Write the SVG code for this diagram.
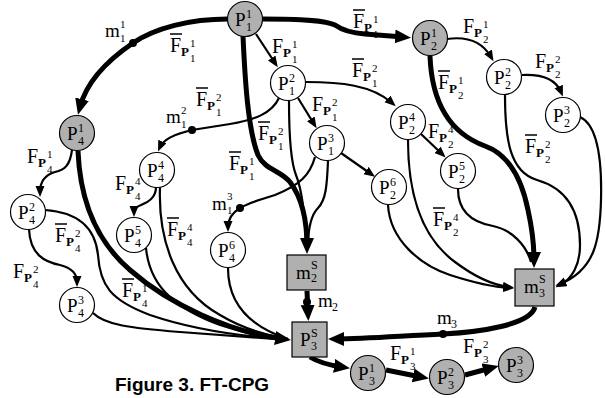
<svg xmlns="http://www.w3.org/2000/svg" width="605" height="398" viewBox="0 0 605 398">
<defs>
<style>
.c{fill:#fff;stroke:#000;stroke-width:1.2}
.g{fill:#b0b0b0;stroke:#000;stroke-width:1.2}
.thk{fill:none;stroke:#000;stroke-width:5}
.thn{fill:none;stroke:#000;stroke-width:2.2}
.ah{marker-end:url(#ah)}
.at{marker-end:url(#at)}
.dot{fill:#000}
text{font-family:"Liberation Serif","Times New Roman",serif;fill:#000}
.F{font-size:20px}
.pb{font-size:13px;font-weight:bold}
.sc{font-size:11px}
.nP{font-size:19px}
.ns{font-size:12px}
.ms{font-size:11px}
.ov{stroke:#000;stroke-width:1.5}
.cap{font-family:"Liberation Sans",Arial,sans-serif;font-weight:bold;font-size:19px}
</style>
<marker id="ah" markerUnits="userSpaceOnUse" markerWidth="17" markerHeight="15" refX="8" refY="7" orient="auto"><path d="M0,0 L16,7 L0,14 z" fill="#000"/></marker>
<marker id="at" markerUnits="userSpaceOnUse" markerWidth="12" markerHeight="10" refX="6" refY="4.5" orient="auto"><path d="M0,0 L11,4.5 L0,9 z" fill="#000"/></marker>
</defs>
<rect width="605" height="398" fill="#fff"/>

<g id="labels">
<g transform="translate(170,52)"><line class="ov" x1="0" y1="-18" x2="12" y2="-18"/><text><tspan class="F" x="0" y="0">F</tspan><tspan class="pb" x="11" y="4">P</tspan><tspan class="sc" x="20" y="-5">1</tspan><tspan class="sc" x="20" y="10">1</tspan></text></g>
<g transform="translate(353,28)"><line class="ov" x1="0" y1="-18" x2="12" y2="-18"/><text><tspan class="F" x="0" y="0">F</tspan><tspan class="pb" x="11" y="4">P</tspan><tspan class="sc" x="20" y="-5">1</tspan><tspan class="sc" x="20" y="10">1</tspan></text></g>
<g transform="translate(272,53)"><text><tspan class="F" x="0" y="0">F</tspan><tspan class="pb" x="11" y="4">P</tspan><tspan class="sc" x="20" y="-5">1</tspan><tspan class="sc" x="20" y="10">1</tspan></text></g>
<g transform="translate(352,77)"><line class="ov" x1="0" y1="-18" x2="12" y2="-18"/><text><tspan class="F" x="0" y="0">F</tspan><tspan class="pb" x="11" y="4">P</tspan><tspan class="sc" x="20" y="-5">2</tspan><tspan class="sc" x="20" y="10">1</tspan></text></g>
<g transform="translate(312,111)"><text><tspan class="F" x="0" y="0">F</tspan><tspan class="pb" x="11" y="4">P</tspan><tspan class="sc" x="20" y="-5">2</tspan><tspan class="sc" x="20" y="10">1</tspan></text></g>
<g transform="translate(196,106)"><line class="ov" x1="0" y1="-18" x2="12" y2="-18"/><text><tspan class="F" x="0" y="0">F</tspan><tspan class="pb" x="11" y="4">P</tspan><tspan class="sc" x="20" y="-5">2</tspan><tspan class="sc" x="20" y="10">1</tspan></text></g>
<g transform="translate(258,140)"><line class="ov" x1="0" y1="-18" x2="12" y2="-18"/><text><tspan class="F" x="0" y="0">F</tspan><tspan class="pb" x="11" y="4">P</tspan><tspan class="sc" x="20" y="-5">2</tspan><tspan class="sc" x="20" y="10">1</tspan></text></g>
<g transform="translate(229,170)"><line class="ov" x1="0" y1="-18" x2="12" y2="-18"/><text><tspan class="F" x="0" y="0">F</tspan><tspan class="pb" x="11" y="4">P</tspan><tspan class="sc" x="20" y="-5">1</tspan><tspan class="sc" x="20" y="10">1</tspan></text></g>
<g transform="translate(463,33)"><text><tspan class="F" x="0" y="0">F</tspan><tspan class="pb" x="11" y="4">P</tspan><tspan class="sc" x="20" y="-5">1</tspan><tspan class="sc" x="20" y="10">2</tspan></text></g>
<g transform="translate(535,68)"><text><tspan class="F" x="0" y="0">F</tspan><tspan class="pb" x="11" y="4">P</tspan><tspan class="sc" x="20" y="-5">2</tspan><tspan class="sc" x="20" y="10">2</tspan></text></g>
<g transform="translate(438,89)"><line class="ov" x1="0" y1="-18" x2="12" y2="-18"/><text><tspan class="F" x="0" y="0">F</tspan><tspan class="pb" x="11" y="4">P</tspan><tspan class="sc" x="20" y="-5">1</tspan><tspan class="sc" x="20" y="10">2</tspan></text></g>
<g transform="translate(525,153)"><line class="ov" x1="0" y1="-18" x2="12" y2="-18"/><text><tspan class="F" x="0" y="0">F</tspan><tspan class="pb" x="11" y="4">P</tspan><tspan class="sc" x="20" y="-5">2</tspan><tspan class="sc" x="20" y="10">2</tspan></text></g>
<g transform="translate(428,138)"><text><tspan class="F" x="0" y="0">F</tspan><tspan class="pb" x="11" y="4">P</tspan><tspan class="sc" x="20" y="-5">4</tspan><tspan class="sc" x="20" y="10">2</tspan></text></g>
<g transform="translate(433,226)"><line class="ov" x1="0" y1="-18" x2="12" y2="-18"/><text><tspan class="F" x="0" y="0">F</tspan><tspan class="pb" x="11" y="4">P</tspan><tspan class="sc" x="20" y="-5">4</tspan><tspan class="sc" x="20" y="10">2</tspan></text></g>
<g transform="translate(27,163)"><text><tspan class="F" x="0" y="0">F</tspan><tspan class="pb" x="11" y="4">P</tspan><tspan class="sc" x="20" y="-5">1</tspan><tspan class="sc" x="20" y="10">4</tspan></text></g>
<g transform="translate(55,242)"><line class="ov" x1="0" y1="-18" x2="12" y2="-18"/><text><tspan class="F" x="0" y="0">F</tspan><tspan class="pb" x="11" y="4">P</tspan><tspan class="sc" x="20" y="-5">2</tspan><tspan class="sc" x="20" y="10">4</tspan></text></g>
<g transform="translate(13,278)"><text><tspan class="F" x="0" y="0">F</tspan><tspan class="pb" x="11" y="4">P</tspan><tspan class="sc" x="20" y="-5">2</tspan><tspan class="sc" x="20" y="10">4</tspan></text></g>
<g transform="translate(122,297)"><line class="ov" x1="0" y1="-18" x2="12" y2="-18"/><text><tspan class="F" x="0" y="0">F</tspan><tspan class="pb" x="11" y="4">P</tspan><tspan class="sc" x="20" y="-5">1</tspan><tspan class="sc" x="20" y="10">4</tspan></text></g>
<g transform="translate(115,190)"><text><tspan class="F" x="0" y="0">F</tspan><tspan class="pb" x="11" y="4">P</tspan><tspan class="sc" x="20" y="-5">4</tspan><tspan class="sc" x="20" y="10">4</tspan></text></g>
<g transform="translate(167,236)"><line class="ov" x1="0" y1="-18" x2="12" y2="-18"/><text><tspan class="F" x="0" y="0">F</tspan><tspan class="pb" x="11" y="4">P</tspan><tspan class="sc" x="20" y="-5">4</tspan><tspan class="sc" x="20" y="10">4</tspan></text></g>
<g transform="translate(390,360)"><text><tspan class="F" x="0" y="0">F</tspan><tspan class="pb" x="11" y="4">P</tspan><tspan class="sc" x="20" y="-5">1</tspan><tspan class="sc" x="20" y="10">3</tspan></text></g>
<g transform="translate(463,353)"><text><tspan class="F" x="0" y="0">F</tspan><tspan class="pb" x="11" y="4">P</tspan><tspan class="sc" x="20" y="-5">2</tspan><tspan class="sc" x="20" y="10">3</tspan></text></g>
<text><tspan class="nP" x="105" y="37">m</tspan><tspan class="ms" x="120" y="28">1</tspan><tspan class="ms" x="120" y="42">1</tspan></text>
<text><tspan class="nP" x="166" y="123">m</tspan><tspan class="ms" x="181" y="114">2</tspan><tspan class="ms" x="181" y="128">1</tspan></text>
<text><tspan class="nP" x="212" y="210">m</tspan><tspan class="ms" x="227" y="200">3</tspan><tspan class="ms" x="227" y="214">1</tspan></text>
<text><tspan class="nP" x="318" y="307">m</tspan><tspan class="ns" x="332" y="311">2</tspan></text>
<text><tspan class="nP" x="437" y="324">m</tspan><tspan class="ns" x="451" y="328">3</tspan></text>
<text class="cap" x="115" y="391">Figure 3. FT-CPG</text>
</g>

<g id="connectors">
<path class="thk ah" d="M228,19 C190,19 155,28 133,43 C105,62 86,84 80,107"/>
<path class="thk ah" d="M262,19 C300,19 325,20 335,25 C342,30 350,33 365,34 L403,37"/>
<path class="thk ah" d="M243,36 C245,80 248,130 258,155 C265,170 280,170 290,182 C302,198 307,220 307,246"/>
<path class="thk ah" d="M430,56 C432,110 455,135 485,146 C510,155 522,180 528,210 C532,228 534,245 534,260"/>
<path class="thk ah" d="M78,151 C80,200 95,240 130,270 C170,305 230,332 283,339"/>
<path class="thk ah" d="M307,291 L308,313"/>
<path class="thk ah" d="M535,307 C530,325 480,332 443,334 C400,336 365,339 336,339"/>
<path class="thk ah" d="M310,357 C318,362 328,365 342,367"/>
<path class="thk ah" d="M386,370 L421,377"/>
<path class="thk ah" d="M465,375 L491,368"/>

<path class="thn at" d="M256,34 L275,63"/>
<path class="thn at" d="M298,98 L314,124"/>
<path class="thn at" d="M306,82 C340,82 372,85 392,103"/>
<path class="thn at" d="M279,98 C272,113 255,120 230,124 L192,130 C175,134 163,140 160,147"/>
<path class="thn" d="M289,101 C289,130 290,160 296,175 C302,190 305,210 306,248"/>
<path class="thn" d="M328,161 C327,185 326,200 318,208 C310,216 308,230 308,248"/>
<path class="thn at" d="M315,157 C310,175 300,185 275,195 C260,200 250,202 240,208 C232,213 228,220 228,227"/>
<path class="thn at" d="M341,153 L371,174"/>
<path class="thn at" d="M447,39 C468,36 483,43 491,57"/>
<path class="thn at" d="M522,75 C543,74 556,80 561,92"/>
<path class="thn at" d="M505,95 C505,140 510,172 537,180 C565,188 580,210 580,245 C580,265 572,279 560,285"/>
<path class="thn at" d="M580,117 C598,125 602,160 601,200 C600,240 595,270 560,284"/>
<path class="thn at" d="M421,134 L442,154"/>
<path class="thn at" d="M408,140 C408,200 425,240 455,262 C475,277 492,285 509,287"/>
<path class="thn" d="M458,189 C458,210 470,222 493,226 C512,230 526,245 531,262"/>
<path class="thn at" d="M388,205 C390,240 420,265 450,275 C475,283 492,287 509,288"/>
<path class="thn at" d="M72,150 C70,165 65,170 55,172 C45,175 40,182 40,192"/>
<path class="thn at" d="M29,229 C30,255 45,262 60,265 C72,268 77,274 77,282"/>
<path class="thn" d="M45,210 C75,212 95,225 98,255 C100,285 110,300 150,315 C200,332 250,337 288,339"/>
<path class="thn" d="M93,313 C105,325 130,328 180,332 C230,336 260,338 288,340"/>
<path class="thn at" d="M156,187 C156,198 148,202 141,205 C136,207 134,209 134,212"/>
<path class="thn" d="M160,187 C158,240 175,290 220,315 C245,330 270,336 288,339"/>
<path class="thn" d="M146,248 C150,290 180,310 220,325 C250,335 270,338 288,339"/>
<path class="thn" d="M228,268 C228,300 245,325 288,339"/>
<circle class="dot" cx="133" cy="43" r="4"/>
<circle class="dot" cx="192" cy="130" r="4"/>
<circle class="dot" cx="240" cy="208" r="4"/>
<circle class="dot" cx="307" cy="302" r="4"/>
<circle class="dot" cx="443" cy="334" r="4"/>
</g>

<g id="P1_1"><circle class="g" cx="245" cy="19" r="17.5"/><text><tspan class="nP" x="235" y="26">P</tspan><tspan class="ns" x="246" y="18">1</tspan><tspan class="ns" x="246" y="31">1</tspan></text></g>
<g id="P1_2"><circle class="c" cx="288" cy="83" r="17.5"/><text><tspan class="nP" x="278" y="90">P</tspan><tspan class="ns" x="289" y="82">2</tspan><tspan class="ns" x="289" y="95">1</tspan></text></g>
<g id="P1_3"><circle class="c" cx="327" cy="143" r="17.5"/><text><tspan class="nP" x="317" y="150">P</tspan><tspan class="ns" x="328" y="142">3</tspan><tspan class="ns" x="328" y="155">1</tspan></text></g>
<g id="P2_1"><circle class="g" cx="430" cy="38" r="17.5"/><text><tspan class="nP" x="420" y="45">P</tspan><tspan class="ns" x="431" y="37">1</tspan><tspan class="ns" x="431" y="50">2</tspan></text></g>
<g id="P2_2"><circle class="c" cx="504" cy="77" r="17.5"/><text><tspan class="nP" x="494" y="84">P</tspan><tspan class="ns" x="505" y="76">2</tspan><tspan class="ns" x="505" y="89">2</tspan></text></g>
<g id="P2_3"><circle class="c" cx="563" cy="115" r="17.5"/><text><tspan class="nP" x="553" y="122">P</tspan><tspan class="ns" x="564" y="114">3</tspan><tspan class="ns" x="564" y="127">2</tspan></text></g>
<g id="P2_4"><circle class="c" cx="408" cy="122" r="17.5"/><text><tspan class="nP" x="398" y="129">P</tspan><tspan class="ns" x="409" y="121">4</tspan><tspan class="ns" x="409" y="134">2</tspan></text></g>
<g id="P2_5"><circle class="c" cx="458" cy="171" r="17.5"/><text><tspan class="nP" x="448" y="178">P</tspan><tspan class="ns" x="459" y="170">5</tspan><tspan class="ns" x="459" y="183">2</tspan></text></g>
<g id="P2_6"><circle class="c" cx="389" cy="187" r="17.5"/><text><tspan class="nP" x="379" y="194">P</tspan><tspan class="ns" x="390" y="186">6</tspan><tspan class="ns" x="390" y="199">2</tspan></text></g>
<g id="P4_1"><circle class="g" cx="77" cy="133" r="17.5"/><text><tspan class="nP" x="67" y="140">P</tspan><tspan class="ns" x="78" y="132">1</tspan><tspan class="ns" x="78" y="145">4</tspan></text></g>
<g id="P4_2"><circle class="c" cx="28" cy="212" r="17.5"/><text><tspan class="nP" x="18" y="219">P</tspan><tspan class="ns" x="29" y="211">2</tspan><tspan class="ns" x="29" y="224">4</tspan></text></g>
<g id="P4_3"><circle class="c" cx="77" cy="305" r="17.5"/><text><tspan class="nP" x="67" y="312">P</tspan><tspan class="ns" x="78" y="304">3</tspan><tspan class="ns" x="78" y="317">4</tspan></text></g>
<g id="P4_4"><circle class="c" cx="157" cy="170" r="17.5"/><text><tspan class="nP" x="147" y="177">P</tspan><tspan class="ns" x="158" y="169">4</tspan><tspan class="ns" x="158" y="182">4</tspan></text></g>
<g id="P4_5"><circle class="c" cx="134" cy="235" r="17.5"/><text><tspan class="nP" x="124" y="242">P</tspan><tspan class="ns" x="135" y="234">5</tspan><tspan class="ns" x="135" y="247">4</tspan></text></g>
<g id="P4_6"><circle class="c" cx="228" cy="250" r="17.5"/><text><tspan class="nP" x="218" y="257">P</tspan><tspan class="ns" x="229" y="249">6</tspan><tspan class="ns" x="229" y="262">4</tspan></text></g>
<g id="m2S"><rect class="g" x="287" y="255" width="39" height="35"/><text><tspan class="nP" x="296" y="279">m</tspan><tspan class="ns" x="311" y="269">S</tspan><tspan class="ns" x="311" y="282">2</tspan></text></g>
<g id="m3S"><rect class="g" x="515" y="269" width="39" height="37"/><text><tspan class="nP" x="524" y="293">m</tspan><tspan class="ns" x="539" y="283">S</tspan><tspan class="ns" x="539" y="297">3</tspan></text></g>
<g id="P3S"><rect class="g" x="292" y="322" width="35" height="35"/><text><tspan class="nP" x="300" y="346">P</tspan><tspan class="ns" x="311" y="337">S</tspan><tspan class="ns" x="311" y="350">3</tspan></text></g>
<g id="P3_1"><circle class="g" cx="368" cy="373" r="17.5"/><text><tspan class="nP" x="358" y="380">P</tspan><tspan class="ns" x="369" y="372">1</tspan><tspan class="ns" x="369" y="385">3</tspan></text></g>
<g id="P3_2"><circle class="g" cx="447" cy="377" r="17.5"/><text><tspan class="nP" x="437" y="384">P</tspan><tspan class="ns" x="448" y="376">2</tspan><tspan class="ns" x="448" y="389">3</tspan></text></g>
<g id="P3_3"><circle class="g" cx="516" cy="365" r="17.5"/><text><tspan class="nP" x="506" y="372">P</tspan><tspan class="ns" x="517" y="364">3</tspan><tspan class="ns" x="517" y="377">3</tspan></text></g>
</svg>
